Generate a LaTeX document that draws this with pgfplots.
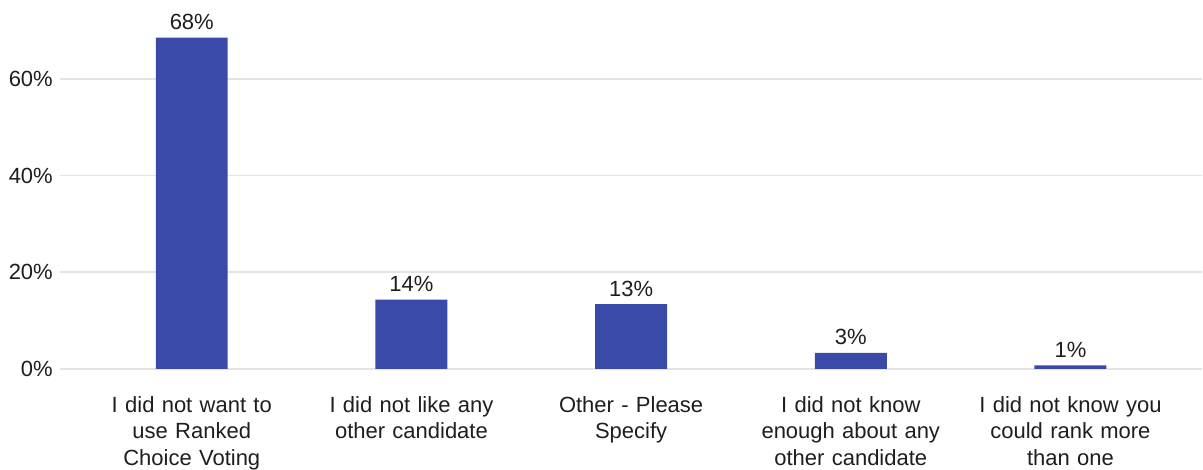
\documentclass[border=0pt]{standalone}
\usepackage{fontspec}
\setmainfont{Liberation Sans}
\usepackage{pgfplots}
\pgfplotsset{compat=1.18}
\definecolor{barblue}{HTML}{3A4AA8}
\definecolor{txt}{HTML}{1E1E1E}
\definecolor{gridc}{HTML}{E3E3E3}
\begin{document}
\begin{tikzpicture}
\begin{axis}[name=ax, scale only axis, width=1143pt, height=338.5pt,
  xmin=-0.6, xmax=4.6, ymin=0, ymax=70, clip=false,
  axis line style={draw=none}, tick style={draw=none},
  ytick={0,20,40,60}, yticklabels={0\%,20\%,40\%,60\%},
  ymajorgrids, grid style={gridc, line width=1.5pt},
  yticklabel style={anchor=east, inner sep=0pt, xshift=-7pt, font=\fontsize{22}{26}\selectfont, text=txt},
  xtick={0,1,2,3,4},
  xticklabels={{I did not want to\\use Ranked\\Choice Voting},{I did not like any\\other candidate},{Other - Please\\Specify},{I did not know\\enough about any\\other candidate},{I did not know you\\could rank more\\than one}},
  xticklabel style={text width=220pt, align=center, anchor=north, inner sep=0pt, yshift=-23pt, font=\fontsize{22}{26.5}\selectfont, text=txt},
  ybar, bar width=72pt,
  nodes near coords, point meta=explicit symbolic,
  nodes near coords={\pgfplotspointmeta\%},
  every node near coord/.append style={anchor=base, inner sep=0pt, yshift=8pt, font=\fontsize{22}{26}\selectfont, text=txt},
]
\addplot[fill=barblue, draw=none] coordinates {(0,68.5)[68] (1,14.3)[14] (2,13.4)[13] (3,3.3)[3] (4,0.7)[1]};
\end{axis}
\path ([shift={(-60pt,-101pt)}]ax.south west) rectangle ([shift={(0pt,30.5pt)}]ax.north east);
\end{tikzpicture}
\end{document}
